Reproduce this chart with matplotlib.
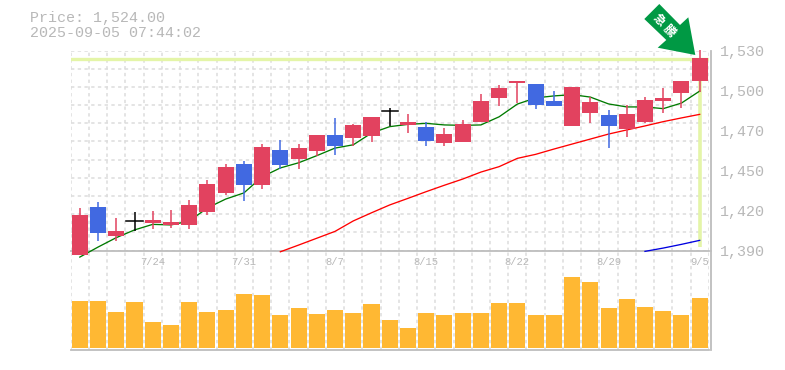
import matplotlib

matplotlib.use('Agg')
import matplotlib.pyplot as plt
from matplotlib.patches import Polygon
from matplotlib.transforms import ScaledTranslation

W, H = 785, 370

# Candles, oldest first. kind: u = up (red), d = down (blue), x = doji (black)
kinds = list("uduxuuuuududuuduuxuduuuuudduuduuuuu")
opens = [1386.9, 1420.4, 1400.2, 1410.6, 1409.2, 1407.9, 1407.9, 1417.0, 1430.3, 1450.6, 1435.9, 1460.4,
         1454.1, 1459.7, 1470.9, 1468.8, 1470.2, 1487.6, 1477.9, 1476.5, 1465.2, 1466.0, 1480.0, 1496.7,
         1507.2, 1506.6, 1494.6, 1477.2, 1486.2, 1484.9, 1475.0, 1480.0, 1494.6, 1500.3, 1508.6]
highs = [1419.8, 1423.9, 1412.8, 1416.9, 1417.6, 1418.4, 1425.4, 1439.4, 1450.6, 1452.6, 1464.6, 1467.4,
         1464.6, 1470.9, 1482.8, 1478.6, 1483.5, 1489.7, 1485.5, 1480.0, 1475.8, 1481.4, 1499.5, 1505.9,
         1508.6, 1506.6, 1501.6, 1504.4, 1497.4, 1488.4, 1491.9, 1497.4, 1503.8, 1508.6, 1530.4]
lows = [1386.9, 1396.6, 1396.6, 1403.6, 1405.1, 1405.8, 1405.1, 1414.9, 1428.9, 1424.6, 1433.1, 1447.0,
        1447.0, 1456.2, 1456.9, 1463.2, 1466.0, 1477.2, 1472.3, 1463.2, 1463.2, 1466.0, 1480.0, 1491.2,
        1493.2, 1489.0, 1491.2, 1477.2, 1479.3, 1461.7, 1469.4, 1479.3, 1486.2, 1489.8, 1500.9]
closes = [1414.9, 1402.3, 1403.6, 1410.6, 1411.4, 1410.0, 1421.9, 1436.6, 1448.5, 1435.9, 1462.4, 1449.9,
          1461.8, 1470.9, 1463.2, 1477.9, 1483.5, 1487.6, 1480.0, 1466.7, 1471.6, 1478.6, 1494.6, 1503.7,
          1508.6, 1491.9, 1491.2, 1504.4, 1493.9, 1477.2, 1485.5, 1495.4, 1496.7, 1508.6, 1524.8]

# Moving averages (the slower ones only start late in the window)
ma_short = [1385.4, 1392.4, 1399.0, 1404.4, 1408.3, 1407.9, 1410.6, 1419.8, 1426.0, 1430.3, 1441.6, 1447.8,
            1451.4, 1456.4, 1461.7, 1464.0, 1472.2, 1476.7, 1478.3, 1479.0, 1477.9, 1477.6, 1477.9, 1483.6,
            1492.5, 1496.8, 1498.2, 1499.1, 1497.4, 1492.6, 1490.5, 1490.5, 1489.3, 1493.2, 1501.6]
ma_mid = [1389.1, 1393.8, 1398.6, 1403.4, 1410.7, 1416.4, 1421.9, 1426.5, 1431.2, 1435.7, 1440.0, 1444.9,
          1448.7, 1454.5, 1457.3, 1461.0, 1464.5, 1468.0, 1471.5, 1474.4, 1477.2, 1480.2, 1482.8, 1485.3]
ma_long = [1389.4, 1391.7, 1394.3, 1397.1]
ma_mid_start = 11
ma_long_start = 31

volumes = [47, 47, 36, 46, 26, 23, 46, 36, 38, 54, 53, 33, 40, 34, 38, 35, 44, 28,
           20, 35, 33, 35, 35, 45, 45, 33, 33, 71, 66, 40, 49, 41, 37, 33, 50]

price_now = 1524.0
y_ticks = [1390, 1418, 1446, 1474, 1502, 1530]
y_labels = ['1,390', '1,420', '1,450', '1,470', '1,500', '1,530']
date_pos = [4, 9, 14, 19, 24, 29, 34]
date_labels = ['7/24', '7/31', '8/7', '8/15', '8/22', '8/29', '9/5']

RED = '#e2425f'
BLUE = '#4169e1'
GRID = '#dddddd'
AXIS = '#bdbdbd'
TEXT = '#b8b8b8'
MONO = ['Liberation Mono', 'DejaVu Sans Mono']


def px_axes(fig, left, top, right, bottom):
    return fig.add_axes([left / W, 1 - bottom / H, (right - left) / W, (bottom - top) / H])


def dashed_vgrid(ax):
    for i in range(36):
        ax.axvline(i - 0.5, color=GRID, lw=1.1, ls=(0, (2.2, 2.2)), zorder=1)


fig = plt.figure(figsize=(W / 100, H / 100), dpi=100)
vol = px_axes(fig, 70.7, 250.5, 708.8, 350)
ax = px_axes(fig, 70.7, 50.5, 708.8, 250.5)
ax.set_zorder(2)
ax.patch.set_visible(False)
vol.patch.set_visible(False)

# ---- price panel ----
ax.set_xlim(-0.5, 34.5)
ax.set_ylim(1390, 1530)
dashed_vgrid(ax)
for i in range(12):
    ax.axhline(1390 + i * 140 / 11, color=GRID, lw=1.1, ls=(0, (2.2, 2.2)), zorder=1)

ax.axhline(price_now, color='#e4f5a8', lw=2.4, zorder=2)
ax.plot([34, 34], [1392.5, price_now], color='#e4f5a8', lw=2.6, zorder=2, solid_capstyle='butt')

ax.plot(range(35), ma_short, color='#007a00', lw=0.95, zorder=3, clip_on=False)
ax.plot(range(ma_mid_start, 35), ma_mid, color='#ff0000', lw=0.95, zorder=3, clip_on=False)
ax.plot(range(ma_long_start, 35), ma_long, color='#0000e0', lw=0.95, zorder=3, clip_on=False)

for i, kind in enumerate(kinds):
    color = {'u': RED, 'd': BLUE, 'x': 'black'}[kind]
    ax.plot([i, i], [lows[i], highs[i]], color=color, lw=1.1, zorder=4, clip_on=False, solid_capstyle='butt')
    if kind == 'x':
        ax.plot([i - 0.44, i + 0.44], [closes[i], closes[i]], color=color, lw=1.1, zorder=4)
    else:
        ax.bar(i, abs(closes[i] - opens[i]), bottom=min(opens[i], closes[i]), width=0.88,
               color=color, lw=0, zorder=4, clip_on=False)

for side in ['top', 'left']:
    ax.spines[side].set_visible(False)
for side in ['bottom', 'right']:
    ax.spines[side].set_color(AXIS)
    ax.spines[side].set_linewidth(1.3)
ax.spines['right'].set_position(('outward', 1.3))

# set_position resets the ticks, so style the labels after it
ax.set_xticks(date_pos)
ax.set_xticklabels(date_labels)
ax.tick_params(axis='x', length=0, pad=4.5)
for lab in ax.get_xticklabels():
    lab.set(family=MONO, fontsize=7.6, color=TEXT)
ax.yaxis.tick_right()
ax.set_yticks(y_ticks)
ax.set_yticklabels(y_labels)
ax.tick_params(axis='y', length=0, pad=6.8)
nudge = ScaledTranslation(0, -1.6 / 100, fig.dpi_scale_trans)
for tick in ax.yaxis.get_major_ticks():
    tick.label2.set(family=MONO, fontsize=10.8, color=TEXT, va='center')
    tick.label2.set_transform(tick.label2.get_transform() + nudge)

# ---- volume panel ----
vol.set_xlim(-0.5, 34.5)
vol.set_ylim(-2, 97.5)
dashed_vgrid(vol)
vol.bar(range(35), volumes, width=0.88, color='#ffb833', lw=0, zorder=3)
vol.set_yticks([])
vol.set_xticks([])
for side in ['top', 'left']:
    vol.spines[side].set_visible(False)
for side in ['bottom', 'right']:
    vol.spines[side].set_color(AXIS)
    vol.spines[side].set_linewidth(1.3)
vol.spines['right'].set_position(('outward', 1.3))

# ---- header and arrow ----
fig.text(30 / W, 1 - 18 / H, 'Price: 1,524.00', family=MONO, fontsize=10.8, color=TEXT, va='center')
fig.text(30 / W, 1 - 33 / H, '2025-09-05 07:44:02', family=MONO, fontsize=10.8, color=TEXT, va='center')

arrow_px = [(659.3, 4), (680, 25), (688.3, 17.3), (695.3, 55), (657.7, 47.7), (666.3, 40), (644.3, 19)]
fig.add_artist(Polygon([(x / W, 1 - y / H) for x, y in arrow_px], closed=True, transform=fig.transFigure,
                       facecolor='#009944', edgecolor='none', zorder=6))
fig.text(658.5 / W, 1 - 19.5 / H, '急', family=['Noto Sans CJK JP'], fontsize=8.5, fontweight='bold', color='white',
         rotation=-45, ha='center', va='center', zorder=7)
fig.text(669 / W, 1 - 30.5 / H, '騰', family=['Noto Sans CJK JP'], fontsize=8.5, fontweight='bold', color='white',
         rotation=-45, ha='center', va='center', zorder=7)

fig.savefig('out.png', dpi=100)
